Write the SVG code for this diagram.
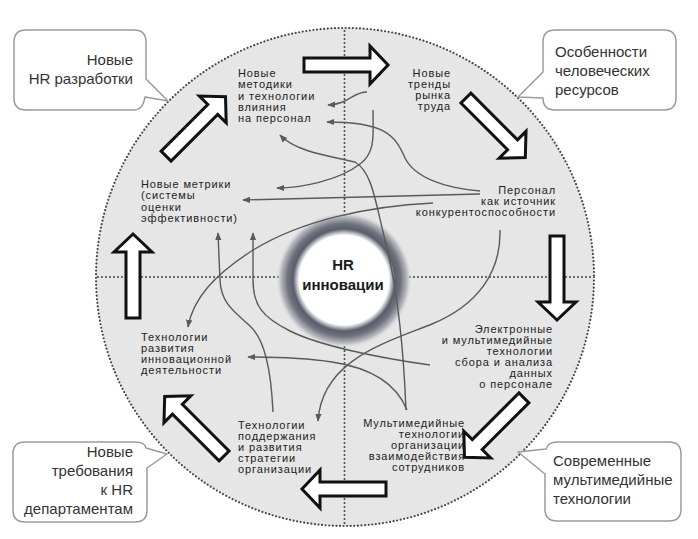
<svg xmlns="http://www.w3.org/2000/svg" width="698" height="539" viewBox="0 0 698 539">
<defs>
<style>
.call{fill:#fff;stroke:#9a9a9a;stroke-width:1.5;stroke-linejoin:round}
.ct{font-family:"Liberation Sans",Arial,sans-serif;font-size:15px;fill:#333}
.lb{font-family:"Liberation Sans",Arial,sans-serif;font-size:11px;letter-spacing:0.9px;fill:#222}
.r{text-anchor:end}
.ctr{font-family:"Liberation Sans",Arial,sans-serif;font-size:15px;font-weight:bold;fill:#1a1a1a;text-anchor:middle}
.ln{fill:none;stroke:#5a5a5a;stroke-width:1.4;marker-end:url(#ah)}
.dot{fill:none;stroke:#444;stroke-linecap:round}
.big{fill:#fff;stroke:#111;stroke-width:3;stroke-linejoin:miter}
</style>
<marker id="ah" viewBox="0 0 10 10" refX="9" refY="5" markerWidth="8" markerHeight="8" markerUnits="userSpaceOnUse" orient="auto">
<path d="M0,1 L10,5 L0,9 Z" fill="#5a5a5a"/>
</marker>
<radialGradient id="halo" cx="0.5" cy="0.5" r="0.5">
<stop offset="0" stop-color="#fff"/>
<stop offset="0.66" stop-color="#fff"/>
<stop offset="0.70" stop-color="#b8bac2"/>
<stop offset="0.75" stop-color="#5a5e6b"/>
<stop offset="0.83" stop-color="#6f727d"/>
<stop offset="0.93" stop-color="#b8bac0"/>
<stop offset="1" stop-color="#e5e5e5" stop-opacity="0"/>
</radialGradient>
<path id="ba" d="M-42,-7 L24,-7 L24,-19 L42,0 L24,19 L24,7 L-42,7 Z"/>
</defs>

<g id="background">
<circle cx="345" cy="277" r="249" fill="#e6e6e6"/>
<circle class="dot" cx="345" cy="277" r="249" stroke-width="2.2" stroke-dasharray="0 3.6"/>
<line class="dot" x1="344.5" y1="31" x2="344.5" y2="524" stroke-width="2" stroke-dasharray="0 4"/>
<line class="dot" x1="98" y1="277" x2="592" y2="277" stroke-width="2" stroke-dasharray="0 4"/>
</g>

<g id="hr-innovations">
<circle cx="344" cy="280" r="68" fill="url(#halo)"/>
</g>

<g id="connectors">
<path class="ln" d="M367,92 C352,92 350,104 328,105"/>
<path class="ln" d="M480,191 C445,188 415,178 405,158 C395,135 385,122 327,122"/>
<path class="ln" d="M373,110 C373,135 376,152 360,164 C338,181 300,188 277,188"/>
<path class="ln" d="M480,194 L243,200"/>
<path class="ln" d="M406,410 C404,360 398,290 385,240 C375,200 372,172 355,162 C330,156 296,152 280,135"/>
<path class="ln" d="M433,203 C370,206 300,220 250,252 C215,275 193,298 188,327"/>
<path class="ln" d="M273,412 C271,370 265,340 250,326 C235,312 221,304 220,280 L218,233"/>
<path class="ln" d="M430,365 C380,358 320,346 290,331 C262,317 253,305 253,280 L253,233"/>
<path class="ln" d="M407,410 C397,385 372,368 332,362 C300,357 270,357 248,357"/>
<path class="ln" d="M500,230 C501,272 478,305 432,324 C385,343 322,360 318,421"/>
</g>

<g id="hr-innovations-text">
<text class="ctr" x="343" y="270">HR</text>
<text class="ctr" x="343" y="290">инновации</text>
</g>

<g id="cycle">
<use href="#ba" class="big" transform="rotate(0 345 277) translate(346 65)"/>
<use href="#ba" class="big" transform="rotate(45 345 277) translate(346 65)"/>
<use href="#ba" class="big" transform="rotate(90 345 277) translate(346 65)"/>
<use href="#ba" class="big" transform="rotate(135 345 277) translate(346 65)"/>
<use href="#ba" class="big" transform="rotate(180 345 277) translate(346 65)"/>
<use href="#ba" class="big" transform="rotate(225 345 277) translate(346 65)"/>
<use href="#ba" class="big" transform="rotate(270 345 277) translate(346 65)"/>
<use href="#ba" class="big" transform="rotate(315 345 277) translate(346 65)"/>
</g>

<g id="new-methods">
<text class="lb" x="238" y="77">Новые</text>
<text class="lb" x="238" y="88">методики</text>
<text class="lb" x="238" y="100">и технологии</text>
<text class="lb" x="238" y="111">влияния</text>
<text class="lb" x="238" y="122">на персонал</text>
</g>
<g id="labor-trends">
<text class="lb r" x="451" y="77">Новые</text>
<text class="lb r" x="451" y="88">тренды</text>
<text class="lb r" x="451" y="99">рынка</text>
<text class="lb r" x="451" y="110">труда</text>
</g>
<g id="personnel">
<text class="lb r" x="556" y="194">Персонал</text>
<text class="lb r" x="556" y="205">как источник</text>
<text class="lb r" x="556" y="216">конкурентоспособности</text>
</g>
<g id="metrics">
<text class="lb" x="141" y="188">Новые метрики</text>
<text class="lb" x="141" y="199">(системы</text>
<text class="lb" x="141" y="211">оценки</text>
<text class="lb" x="141" y="222">эффективности)</text>
</g>
<g id="innovation-tech">
<text class="lb" x="141" y="341">Технологии</text>
<text class="lb" x="141" y="352">развития</text>
<text class="lb" x="141" y="363">инновационной</text>
<text class="lb" x="141" y="374">деятельности</text>
</g>
<g id="strategy-tech">
<text class="lb" x="238" y="429">Технологии</text>
<text class="lb" x="238" y="440">поддержания</text>
<text class="lb" x="238" y="451">и развития</text>
<text class="lb" x="238" y="462">стратегии</text>
<text class="lb" x="238" y="473">организации</text>
</g>
<g id="multimedia-interaction">
<text class="lb r" x="465" y="427">Мультимедийные</text>
<text class="lb r" x="465" y="438">технологии</text>
<text class="lb r" x="465" y="449">организации</text>
<text class="lb r" x="465" y="460">взаимодействия</text>
<text class="lb r" x="465" y="471">сотрудников</text>
</g>
<g id="electronic-tech">
<text class="lb r" x="553" y="333">Электронные</text>
<text class="lb r" x="553" y="344">и мультимедийные</text>
<text class="lb r" x="553" y="355">технологии</text>
<text class="lb r" x="553" y="366">сбора и анализа</text>
<text class="lb r" x="553" y="377">данных</text>
<text class="lb r" x="553" y="388">о персонале</text>
</g>

<g id="callout-hr-dev">
<path class="call" d="M26,30 H134 Q146,30 146,42 V79 L168,101 L145,97 Q143,110 134,110 H26 Q14,110 14,98 V42 Q14,30 26,30 Z"/>
<text class="ct r" x="133" y="65">Новые</text>
<text class="ct r" x="133" y="84">HR разработки</text>
</g>
<g id="callout-human-resources">
<path class="call" d="M555,30 H664 Q676,30 676,42 V98 Q676,110 664,110 H555 Q543,110 543,98 L518,97 L543,72 V42 Q543,30 555,30 Z"/>
<text class="ct" x="555" y="57">Особенности</text>
<text class="ct" x="555" y="76">человеческих</text>
<text class="ct" x="555" y="95">ресурсов</text>
</g>
<g id="callout-requirements">
<path class="call" d="M25,442 H135 Q145,442 146,448 L167,454 L147,468 V510 Q147,522 135,522 H25 Q13,522 13,510 V454 Q13,442 25,442 Z"/>
<text class="ct r" x="133" y="457">Новые</text>
<text class="ct r" x="133" y="476">требования</text>
<text class="ct r" x="133" y="495">к HR</text>
<text class="ct r" x="133" y="514">департаментам</text>
</g>
<g id="callout-multimedia">
<path class="call" d="M557,442 H669 Q681,442 681,454 V509 Q681,521 669,521 H557 Q545,521 545,509 V474 L518,452 L546,449 Q548,442 557,442 Z"/>
<text class="ct" x="553" y="466">Современные</text>
<text class="ct" x="553" y="485">мультимедийные</text>
<text class="ct" x="553" y="504">технологии</text>
</g>
</svg>
